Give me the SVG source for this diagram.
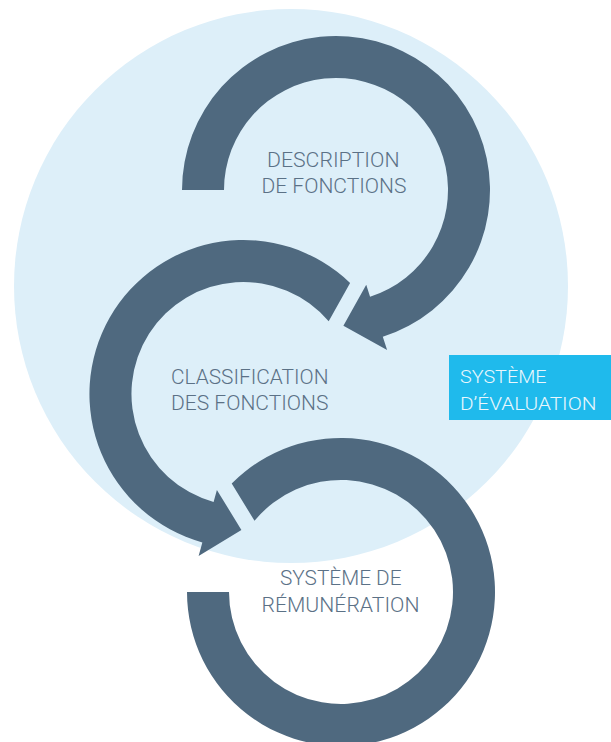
<svg xmlns="http://www.w3.org/2000/svg" width="611" height="742" viewBox="0 0 611 742">
  <style>
    .ring { fill: #4f697f; }
    .lbl { font-family: Roboto, "Liberation Sans", sans-serif; font-weight: 300; font-size: 20px; fill: #5b7186; }
    .boxlbl { font-family: Roboto, "Liberation Sans", sans-serif; font-weight: 300; font-size: 19px; fill: #eaf7fd; }
  </style>
  <rect x="0" y="0" width="611" height="742" fill="#ffffff"/>
  <circle id="evaluation-zone" cx="291" cy="286" r="277" fill="#ddeff9"/>

  <g id="connectors">
    <path id="arrow-top" class="ring" d="M182,190 A154,154 0 1 1 382.8,336.7 L387.1,350.1 L343.4,325.8 L366.25,284.8 L370.05,296.7 A112,112 0 1 0 224,190 Z"/>
    <path id="arrow-middle" class="ring" d="M350.1,282.9 A154,154 0 1 0 202.35,542.4 L198.6,555.9 L241.4,530 L216.9,489.9 L213.6,501.9 A112,112 0 1 1 328.7,321.3 Z"/>
    <path id="arrow-bottom" class="ring" d="M231.7,483.5 A154,154 0 1 1 187,592 L229,592 A112,112 0 1 0 254.5,520.8 Z"/>
  </g>

  <g id="node-description">
    <text class="lbl" x="267" y="166.5" textLength="132.5" lengthAdjust="spacingAndGlyphs">DESCRIPTION</text>
    <text class="lbl" x="261.5" y="193" textLength="145" lengthAdjust="spacingAndGlyphs">DE FONCTIONS</text>
  </g>

  <g id="node-classification">
    <text class="lbl" x="171" y="383.5" textLength="157.5" lengthAdjust="spacingAndGlyphs">CLASSIFICATION</text>
    <text class="lbl" x="171" y="410" textLength="157.5" lengthAdjust="spacingAndGlyphs">DES FONCTIONS</text>
  </g>

  <g id="node-remuneration">
    <text class="lbl" x="280" y="585" textLength="121.5" lengthAdjust="spacingAndGlyphs">SYSTÈME DE</text>
    <text class="lbl" x="261.5" y="611.5" textLength="158" lengthAdjust="spacingAndGlyphs">RÉMUNÉRATION</text>
  </g>

  <g id="node-evaluation">
    <rect x="449" y="355" width="162" height="65" fill="#1fbaec"/>
    <text class="boxlbl" x="460" y="383" textLength="86.5" lengthAdjust="spacingAndGlyphs">SYSTÈME</text>
    <text class="boxlbl" x="460" y="409.5" textLength="136.5" lengthAdjust="spacingAndGlyphs">D’ÉVALUATION</text>
  </g>
</svg>
